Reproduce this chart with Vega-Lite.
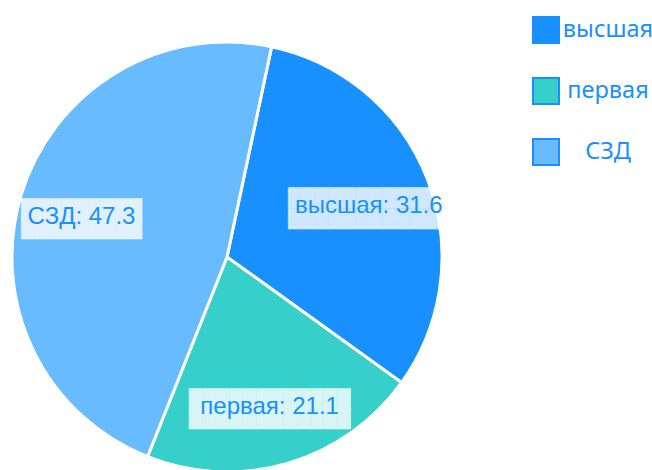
{
  "$schema": "https://vega.github.io/schema/vega-lite/v6.json",
  "width": 430,
  "height": 430,
  "autosize": {"type": "none"},
  "padding": {"left": 12, "top": 42, "right": 210, "bottom": 0},
  "background": "white",
  "data": {"values": [
    {"category": "высшая", "value": 31.6},
    {"category": "первая", "value": 21.1},
    {"category": "СЗД", "value": 47.3}
  ]},
  "transform": [
    {"calculate": "datum.category + ': ' + format(datum.value, '.1f')", "as": "label"},
    {"calculate": "replace(datum.label, regexp('.', 'g'), '█')", "as": "bgline"},
    {"calculate": "[datum.bgline, datum.bgline]", "as": "bg"}
  ],
  "encoding": {
    "theta": {"field": "value", "type": "quantitative", "stack": true, "scale": {"range": [3.5203, 9.8035]}},
    "order": {"field": "category", "type": "nominal", "sort": "ascending"},
    "detail": {"field": "category", "type": "nominal"}
  },
  "layer": [
    {
      "mark": {"type": "arc", "stroke": "white", "strokeWidth": 3, "outerRadius": 215},
      "encoding": {
        "color": {
          "field": "category", "type": "nominal",
          "scale": {"domain": ["высшая", "первая", "СЗД"], "range": ["#1890ff", "#36cfc9", "#69bbff"]},
          "legend": {
            "orient": "none", "legendX": 520, "legendY": -26, "title": null, "padding": 0,
            "symbolType": "square", "symbolSize": 676, "symbolStrokeColor": "#1890ff", "symbolStrokeWidth": 2, "symbolOpacity": 1,
            "labelFont": "Noto Sans", "labelFontSize": 23.5, "labelColor": "#1890ff",
            "rowPadding": 27, "labelAlign": "center", "labelOffset": 48
          }
        }
      }
    },
    {
      "mark": {"type": "text", "radius": 152, "font": "DejaVu Sans", "fontSize": 17.5, "lineHeight": 20.5, "dy": -3, "fill": "white", "opacity": 0.8},
      "encoding": {"text": {"field": "bg"}}
    },
    {
      "mark": {"type": "text", "radius": 152, "dy": 4, "font": "Liberation Sans", "fontSize": 24, "fill": "#1890ff"},
      "encoding": {"text": {"field": "label"}}
    }
  ]
}
